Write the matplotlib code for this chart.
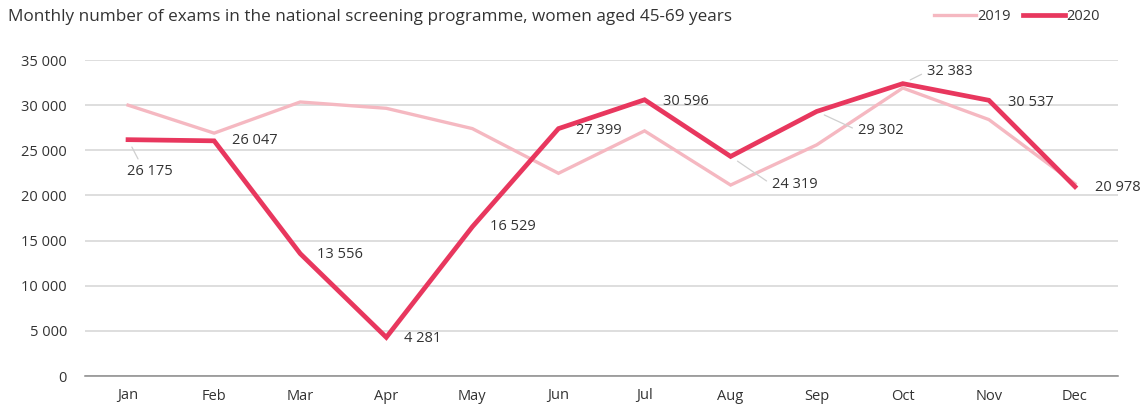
import matplotlib.pyplot as plt
import numpy as np

plt.rcParams['font.family'] = ['Open Sans', 'DejaVu Sans']

months = ["Jan", "Feb", "Mar", "Apr", "May", "Jun",
          "Jul", "Aug", "Sep", "Oct", "Nov", "Dec"]
exams_2019 = [30000, 26900, 30350, 29650, 27400, 22450,
              27150, 21150, 25600, 31900, 28400, 21300]
exams_2020 = [26175, 26047, 13556, 4281, 16529, 27399,
              30596, 24319, 29302, 32383, 30537, 20978]
yticks = [0, 5000, 10000, 15000, 20000, 25000, 30000, 35000]

# label offsets in pixels (dx, dy) and whether a leader line is drawn
label_offsets = [(-1, -32, True), (18, 0, False), (17, -1, False), (18, -1, False),
                 (18, 0, False), (18, -2, False), (18, -2, False), (41, -28, True),
                 (41, -19, True), (24, 12, True), (19, -2, False), (20, -1, False)]

red = "#e8375e"
pink = "#f5b8c1"
text_col = "#333333"
fs = 10.5

fig = plt.figure(figsize=(11.42, 4.09), dpi=100)
ax = fig.add_axes([85 / 1142, 1 - 376 / 409, (1118 - 85) / 1142, (376 - 60) / 409])

x = np.arange(len(months))
ax.plot(x, exams_2019, color=pink, lw=2.4, solid_joinstyle='miter', label="2019", zorder=3)
ax.plot(x, exams_2020, color=red, lw=3.4, solid_joinstyle='miter', label="2020", zorder=4)

for i, v in enumerate(exams_2020):
    dx, dy, leader = label_offsets[i]
    txt = f"{v:,}".replace(",", " ")
    kw = {}
    if leader:
        rel = (0.3, 1.0) if i == 0 else (0.0, 0.5)
        kw["arrowprops"] = dict(arrowstyle='-', color="#cfcfcf", lw=0.9,
                                relpos=rel, shrinkA=2, shrinkB=6)
    ax.annotate(txt, (i, v), xytext=(dx, dy), textcoords='offset pixels',
                ha='left', va='center', fontsize=fs, color=text_col,
                annotation_clip=False, zorder=5, **kw)

ax.set_xlim(-0.5, 11.5)
ax.set_ylim(0, 35000)
ax.set_xticks(x)
ax.set_xticklabels(months)
ax.set_yticks(yticks)
ax.set_yticklabels([f"{t:,}".replace(",", " ") for t in yticks])
ax.tick_params(axis='both', length=0, labelsize=fs, labelcolor=text_col)
ax.tick_params(axis='y', pad=13)
ax.tick_params(axis='x', pad=9)

ax.grid(axis='y', color="#d4d4d4", lw=1.1)
ax.set_axisbelow(True)
for s in ["top", "right", "left"]:
    ax.spines[s].set_visible(False)
ax.spines["bottom"].set_color("#8a8a8a")
ax.spines["bottom"].set_linewidth(1.1)

fig.text(8 / 1142, 1 - 17 / 409,
         "Monthly number of exams in the national screening programme, women aged 45-69 years",
         fontsize=12.3, color=text_col, va='center', ha='left')

ax.legend(loc='center right', bbox_to_anchor=(1100 / 1142, 1 - 17 / 409),
          bbox_transform=fig.transFigure, ncol=2, frameon=False,
          fontsize=fs, handlelength=2.9, handletextpad=0.1, columnspacing=0.8,
          labelcolor=text_col, borderaxespad=0, borderpad=0)

fig.savefig("out.png", dpi=100)
